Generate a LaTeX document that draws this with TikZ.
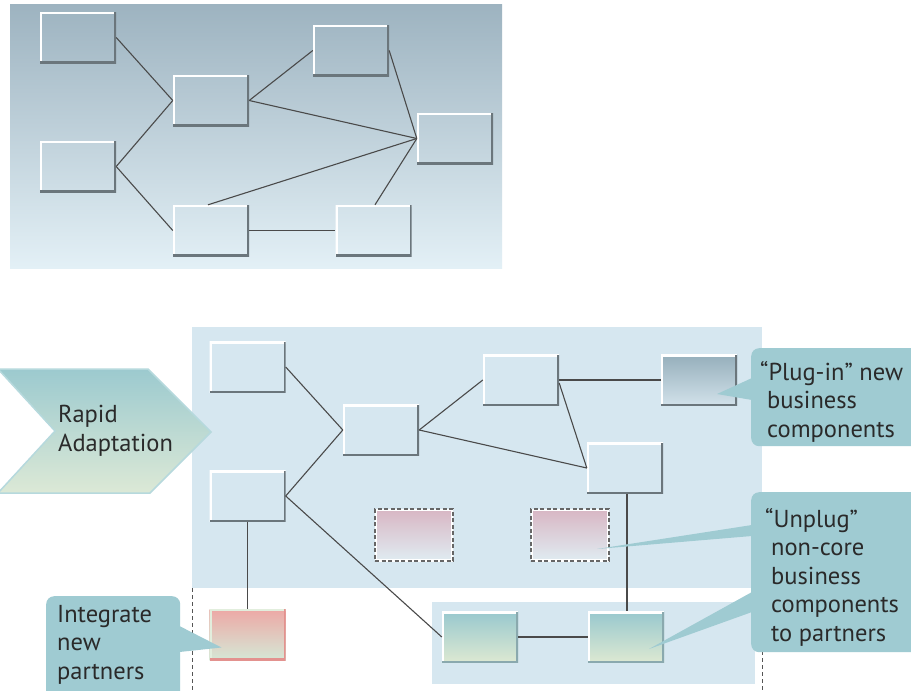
\documentclass[tikz,border=0pt]{standalone}
\usepackage{fontspec}
\setmainfont{PT Sans}
\usetikzlibrary{calc}

\definecolor{linecol}{HTML}{4A4A4A}
\definecolor{shadecol}{HTML}{6B767C}
\definecolor{panelbg}{HTML}{D6E7F0}
\definecolor{calloutcol}{HTML}{9FCBD2}
\definecolor{txtcol}{HTML}{2A2A2A}
\definecolor{plugtop}{HTML}{95AEBB}
\definecolor{plugbot}{HTML}{D2E2EA}
\definecolor{ghosttop}{HTML}{D8B6C3}
\definecolor{ghostbot}{HTML}{E0ECF2}
\definecolor{ghostedge}{HTML}{666666}
\definecolor{partnertop}{HTML}{EDA8A5}
\definecolor{partnerbot}{HTML}{D5E8D6}
\definecolor{partnerlight}{HTML}{E2EEDD}
\definecolor{partnerdark}{HTML}{E3928F}
\definecolor{tealtop}{HTML}{98C8CE}
\definecolor{tealbot}{HTML}{DDE9D2}
\definecolor{tealdark}{HTML}{8AA9AE}
\definecolor{guidecol}{HTML}{555555}
\definecolor{topbgA}{HTML}{9DB3C0}
\definecolor{topbgB}{HTML}{E3F0F6}
\definecolor{chevA}{HTML}{9CCACF}
\definecolor{chevB}{HTML}{DCE9D6}
\definecolor{chevedge}{HTML}{B6D9DD}

\tikzset{
  conn/.style={draw=linecol, line width=1.1pt},
  bevel/.style 2 args={path picture={
      \draw[#1, line width=4pt]
        (path picture bounding box.south west) -- (path picture bounding box.north west)
        -- (path picture bounding box.north east);
      \draw[#2, line width=4pt]
        (path picture bounding box.north east) -- (path picture bounding box.south east)
        -- (path picture bounding box.south west);}},
  comp/.style={rectangle, inner sep=0pt, minimum width=76pt, minimum height=51pt,
      bevel={white}{shadecol}},
  plainbox/.style={comp, fill=panelbg},
  plugbox/.style={comp, top color=plugtop, bottom color=plugbot},
  ghostbox/.style={rectangle, inner sep=0pt, minimum width=78pt, minimum height=52pt,
      top color=ghosttop, bottom color=ghostbot, draw=ghostedge,
      line width=1.2pt, dash pattern=on 4pt off 2.5pt,
      path picture={\draw[white, line width=3.5pt, solid]
        (path picture bounding box.south west) rectangle (path picture bounding box.north east);}},
  partnerbox/.style={rectangle, inner sep=0pt, minimum width=76pt, minimum height=51pt,
      top color=partnertop, bottom color=partnerbot, bevel={partnerlight}{partnerdark}},
  tealbox/.style={rectangle, inner sep=0pt, minimum width=76pt, minimum height=51pt,
      top color=tealtop, bottom color=tealbot, bevel={white}{tealdark}},
  calltext/.style={inner sep=0pt, anchor=north west, align=left, text=txtcol,
      font=\fontsize{24.5}{28.5}\selectfont},
  callbox/.style={rectangle, fill=calloutcol, rounded corners=8pt, inner sep=0pt,
      anchor=north west},
  guide/.style={draw=guidecol, line width=1pt, dash pattern=on 4pt off 3pt},
}

\begin{document}
\begin{tikzpicture}[x=1pt, y=-1pt]
\useasboundingbox[fill=white] (0,0) rectangle (911,691);

% ---------- upper panel: tightly wired component network ----------
\fill[top color=topbgA, bottom color=topbgB] (10,4) rectangle (502,268);

\node[comp] (a) at (78,37.5) {};
\node[comp] (b) at (211,100.5) {};
\node[comp] (c) at (351,50.5) {};
\node[comp] (d) at (78,166.5) {};
\node[comp] (e) at (455,138.5) {};
\node[comp] (f) at (211,230.5) {};
\node[comp] (g) at (373.5,230.5) {};

\draw[conn] (a.east) -- (b.west);
\draw[conn] (d.east) -- (b.west);
\draw[conn] (d.east) -- (f.west);
\draw[conn] (b.east) -- (c.west);
\draw[conn] (b.east) -- (e.west);
\draw[conn] (c.east) -- (e.west);
\draw[conn] ([xshift=-3pt]f.north) -- (e.west);
\draw[conn] ([xshift=1.5pt]g.north) -- (e.west);
\draw[conn] (f.east) -- (g.west);

% ---------- lower panel: adaptable component network ----------
\fill[panelbg] (192,327) rectangle (762,588);
\fill[panelbg] (432,602) rectangle (755,684);
\draw[guide] (192,588) -- (192,691);
\draw[guide] (762,588) -- (762,691);

\node[plainbox] (h) at (247.5,367) {};
\node[plainbox] (i) at (381,430) {};
\node[plainbox] (j) at (247.5,496) {};
\node[plainbox] (k) at (521,380) {};
\node[plugbox]  (l) at (699,380) {};
\node[plainbox] (m) at (625,468) {};
\node[ghostbox] (u1) at (414,535) {};
\node[ghostbox] (u2) at (570,535) {};
\node[partnerbox] (p) at (247.5,634.5) {};
\node[tealbox] (n) at (480,637) {};
\node[tealbox] (o) at (626,637) {};

\draw[conn] (h.east) -- (i.west);
\draw[conn] (j.east) -- (i.west);
\draw[conn] (j.east) -- (n.west);
\draw[conn] (j.south) -- (p.north);
\draw[conn] (i.east) -- (k.west);
\draw[conn] (i.east) -- (m.west);
\draw[conn] (k.east) -- (l.west);
\draw[conn] ($(k.east)+(0,3)$) -- (m.west);
\draw[conn] ([xshift=2pt]m.south) -- ([xshift=1pt]o.north);
\draw[conn] (n.east) -- (o.west);

% ---------- chevron ----------
\fill[top color=chevA, bottom color=chevB, draw=chevedge, line width=1.5pt]
  (-2,369) -- (148,369) -- (211,432) -- (150,493) -- (-2,493) -- (55,431) -- cycle;
\node[calltext] (chev) at (58,405) {Rapid\\Adaptation};

% ---------- callouts ----------
\node[callbox, minimum width=134pt, minimum height=104pt] (intbox) at (46,596) {};
\coordinate (intTip) at ($(p.center)+(-26,13)$);
\fill[calloutcol] ($(intbox.north east)+(-1,30)$) -- (intTip) -- ($(intbox.north east)+(-1,56)$) -- cycle;
\node[calltext] (inttxt) at (57,605) {Integrate\\new\\partners};

\node[callbox, minimum width=170pt, minimum height=98pt] (plugbox) at (751,348) {};
\coordinate (plugTip) at ($(l.center)+(18,14)$);
\fill[calloutcol] ($(plugbox.north west)+(1,30)$) -- (plugTip) -- ($(plugbox.north west)+(1,52)$) -- cycle;
\node[calltext] (plugtxt) at (760,361) {``Plug-in'' new\\\hspace*{7pt}business\\\hspace*{7pt}components};

\node[callbox, minimum width=170pt, minimum height=160pt] (unbox) at (751,492) {};
\coordinate (unTipA) at ($(u2.center)+(27,14)$);
\coordinate (unTipB) at ($(o.center)+(23,12)$);
\fill[calloutcol] ($(unbox.north west)+(1,33)$) -- (unTipA) -- ($(unbox.north west)+(1,44)$) -- cycle;
\fill[calloutcol] ($(unbox.north west)+(1,100)$) -- (unTipB) -- ($(unbox.north west)+(1,120)$) -- cycle;
\node[calltext] (untxt) at (765,508) {``Unplug''\\\hspace*{6pt}non-core\\\hspace*{6pt}business\\\hspace*{6pt}components\\\hspace*{6pt}to partners};

\end{tikzpicture}
\end{document}
